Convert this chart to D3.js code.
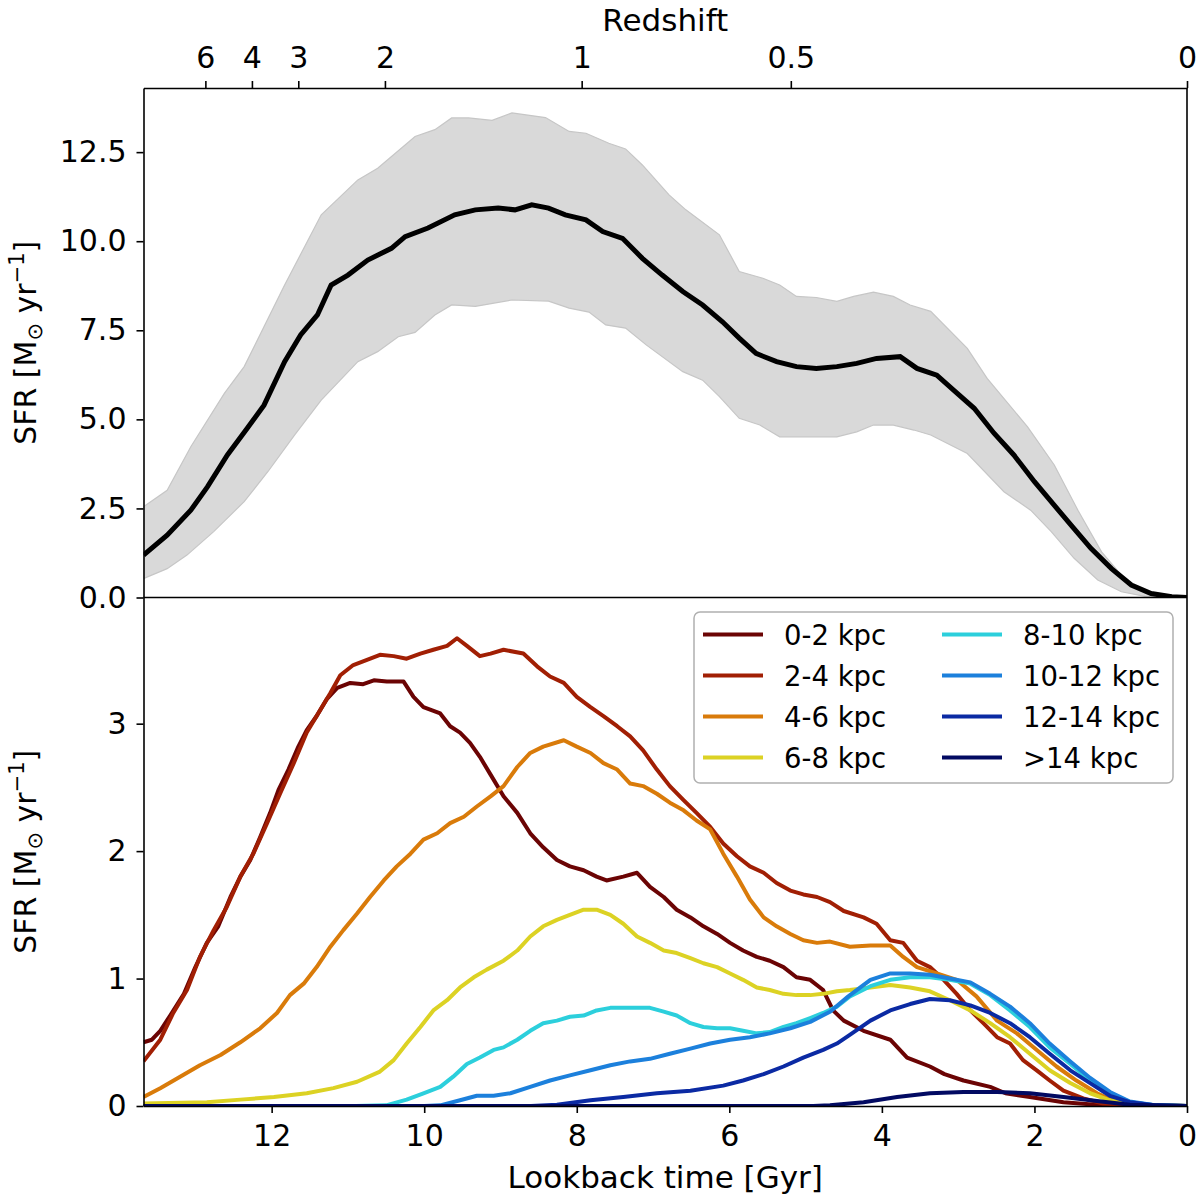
<!DOCTYPE html>
<html>
<head>
<meta charset="utf-8">
<script src="https://cdn.jsdelivr.net/npm/d3@7"></script>
<style>
body { margin: 0; background: #fff; }
svg text { font-family: "DejaVu Sans", sans-serif; fill: #000; }
</style>
</head>
<body>
<div id="chart"></div>
<script>
// ---- data: [lookback time in Gyr, SFR] ----
var sfrTotal = [[13.68,1.19],[13.37,1.75],[13.06,2.45],[12.84,3.11],[12.58,4.00],[12.32,4.75],[12.10,5.40],[11.83,6.62],[11.62,7.37],[11.40,7.93],[11.22,8.77],[11.00,9.05],[10.74,9.47],[10.43,9.80],[10.25,10.13],[9.95,10.37],[9.60,10.74],[9.33,10.88],[9.03,10.93],[8.81,10.88],[8.59,11.02],[8.37,10.93],[8.15,10.74],[7.88,10.60],[7.66,10.27],[7.40,10.08],[7.14,9.52],[6.88,9.05],[6.61,8.59],[6.35,8.21],[6.09,7.74],[5.87,7.28],[5.65,6.85],[5.38,6.62],[5.12,6.48],[4.86,6.43],[4.59,6.48],[4.33,6.57],[4.07,6.71],[3.76,6.76],[3.54,6.43],[3.28,6.24],[3.06,5.82],[2.79,5.31],[2.53,4.61],[2.27,4.00],[2.00,3.25],[1.78,2.69],[1.52,2.03],[1.26,1.38],[0.99,0.81],[0.73,0.35],[0.47,0.11],[0.20,0.02],[0,0]];

var sfrUpper = [[13.68,2.55],[13.37,3.01],[13.06,4.23],[12.62,5.73],[12.36,6.48],[11.83,8.77],[11.35,10.74],[10.87,11.72],[10.61,12.05],[10.12,12.94],[9.86,13.13],[9.64,13.46],[9.42,13.46],[9.11,13.39],[8.85,13.60],[8.41,13.47],[8.10,13.08],[7.88,13.03],[7.58,12.75],[7.36,12.59],[7.14,12.14],[6.79,11.30],[6.57,10.88],[6.13,10.18],[5.87,9.15],[5.56,8.96],[5.34,8.77],[5.12,8.45],[4.86,8.42],[4.59,8.31],[4.37,8.45],[4.11,8.57],[3.85,8.45],[3.63,8.21],[3.36,8.03],[2.88,6.99],[2.62,6.15],[2.09,4.79],[1.74,3.72],[1.43,2.45],[1.12,1.28],[0.82,0.53],[0.55,0.16],[0.29,0.04],[0,0]];

var sfrLower = [[13.68,0.53],[13.37,0.81],[13.11,1.19],[12.76,1.85],[12.36,2.69],[12.05,3.53],[11.70,4.56],[11.35,5.54],[10.87,6.62],[10.61,6.90],[10.34,7.32],[10.12,7.44],[9.86,7.93],[9.64,8.21],[9.33,8.17],[8.85,8.35],[8.37,8.32],[8.10,8.12],[7.84,8.01],[7.62,7.65],[7.36,7.56],[7.09,7.09],[6.61,6.34],[6.35,6.10],[6.13,5.64],[5.87,5.03],[5.60,4.84],[5.34,4.51],[4.59,4.51],[4.33,4.65],[4.11,4.84],[3.85,4.84],[3.58,4.70],[3.36,4.56],[2.88,4.04],[2.40,2.97],[2.05,2.45],[1.78,1.85],[1.48,1.10],[1.17,0.49],[0.86,0.16],[0.55,0.03],[0,0]];

var ring0_2 = [[13.68,0.50],[13.57,0.52],[13.46,0.59],[13.33,0.71],[13.15,0.88],[13.00,1.09],[12.85,1.28],[12.70,1.41],[12.54,1.64],[12.41,1.80],[12.28,1.93],[12.15,2.11],[12.02,2.30],[11.91,2.48],[11.78,2.64],[11.65,2.82],[11.54,2.95],[11.41,3.06],[11.28,3.19],[11.14,3.28],[10.97,3.32],[10.80,3.31],[10.66,3.34],[10.49,3.33],[10.27,3.33],[10.14,3.21],[10.01,3.13],[9.79,3.08],[9.66,2.98],[9.53,2.93],[9.40,2.85],[9.27,2.74],[9.13,2.60],[8.96,2.43],[8.78,2.30],[8.61,2.14],[8.44,2.03],[8.26,1.93],[8.09,1.88],[7.91,1.85],[7.74,1.80],[7.61,1.77],[7.39,1.80],[7.21,1.83],[7.04,1.72],[6.86,1.64],[6.69,1.54],[6.51,1.48],[6.34,1.41],[6.16,1.35],[5.99,1.28],[5.82,1.22],[5.64,1.17],[5.47,1.14],[5.29,1.09],[5.12,1.01],[4.94,0.99],[4.77,0.91],[4.64,0.75],[4.50,0.67],[4.24,0.59],[3.89,0.52],[3.67,0.38],[3.37,0.31],[3.18,0.25],[2.93,0.20],[2.58,0.15],[2.38,0.10],[2.06,0.07],[1.62,0.03],[1.20,0.01],[0.60,0.002],[0,0]];

var ring2_4 = [[13.68,0.35],[13.46,0.52],[13.29,0.73],[13.11,0.91],[12.94,1.17],[12.76,1.38],[12.59,1.56],[12.41,1.80],[12.24,1.98],[12.06,2.22],[11.89,2.45],[11.71,2.69],[11.54,2.93],[11.41,3.06],[11.23,3.24],[11.10,3.38],[10.93,3.46],[10.75,3.50],[10.58,3.54],[10.40,3.53],[10.23,3.51],[10.05,3.55],[9.88,3.58],[9.70,3.61],[9.57,3.67],[9.44,3.61],[9.27,3.53],[9.13,3.55],[8.96,3.58],[8.70,3.55],[8.52,3.45],[8.35,3.37],[8.17,3.32],[8.00,3.21],[7.82,3.13],[7.65,3.06],[7.47,2.98],[7.30,2.90],[7.13,2.79],[6.95,2.64],[6.78,2.51],[6.60,2.40],[6.43,2.30],[6.25,2.19],[6.08,2.06],[5.90,1.96],[5.73,1.88],[5.55,1.83],[5.38,1.75],[5.20,1.69],[5.03,1.66],[4.85,1.64],[4.68,1.60],[4.50,1.53],[4.24,1.48],[4.07,1.43],[3.89,1.30],[3.72,1.28],[3.54,1.14],[3.37,1.09],[3.19,0.99],[3.02,0.88],[2.84,0.75],[2.67,0.65],[2.49,0.54],[2.32,0.49],[2.15,0.36],[1.97,0.28],[1.80,0.20],[1.62,0.12],[1.36,0.06],[1.10,0.02],[0.75,0.005],[0,0]];

var ring4_6 = [[13.68,0.07],[13.46,0.14],[13.20,0.23],[12.94,0.32],[12.67,0.40],[12.41,0.50],[12.15,0.61],[11.93,0.73],[11.76,0.87],[11.58,0.96],[11.41,1.09],[11.23,1.25],[11.06,1.38],[10.88,1.51],[10.71,1.64],[10.53,1.77],[10.36,1.88],[10.18,1.98],[10.01,2.09],[9.83,2.14],[9.66,2.22],[9.48,2.27],[9.31,2.35],[9.13,2.43],[8.96,2.51],[8.78,2.66],[8.61,2.77],[8.44,2.82],[8.17,2.87],[8.00,2.82],[7.82,2.77],[7.65,2.69],[7.47,2.64],[7.30,2.53],[7.13,2.51],[6.95,2.45],[6.78,2.38],[6.60,2.32],[6.43,2.24],[6.25,2.17],[6.08,1.98],[5.90,1.80],[5.73,1.62],[5.55,1.48],[5.38,1.41],[5.20,1.35],[5.03,1.30],[4.85,1.28],[4.68,1.29],[4.42,1.25],[4.15,1.26],[3.89,1.26],[3.72,1.17],[3.54,1.09],[3.28,1.04],[3.02,0.99],[2.76,0.86],[2.49,0.67],[2.23,0.57],[1.97,0.44],[1.71,0.31],[1.45,0.20],[1.18,0.10],[0.92,0.03],[0.60,0.005],[0,0]];

var ring6_8 = [[13.68,0.02],[12.85,0.03],[12.41,0.05],[11.97,0.07],[11.54,0.10],[11.19,0.14],[10.88,0.19],[10.58,0.27],[10.40,0.36],[10.23,0.49],[10.05,0.62],[9.88,0.75],[9.70,0.83],[9.53,0.93],[9.35,1.01],[9.18,1.07],[8.96,1.14],[8.78,1.22],[8.61,1.33],[8.44,1.41],[8.26,1.46],[8.09,1.50],[7.91,1.54],[7.74,1.54],[7.56,1.50],[7.39,1.43],[7.21,1.33],[7.04,1.28],[6.86,1.22],[6.69,1.20],[6.51,1.16],[6.34,1.12],[6.16,1.09],[5.99,1.04],[5.82,0.99],[5.64,0.93],[5.47,0.91],[5.29,0.88],[5.12,0.87],[4.94,0.87],[4.77,0.88],[4.59,0.90],[4.42,0.91],[4.15,0.93],[3.89,0.95],[3.63,0.93],[3.37,0.90],[3.11,0.83],[2.84,0.75],[2.58,0.65],[2.32,0.54],[2.06,0.41],[1.80,0.28],[1.53,0.18],[1.27,0.10],[1.01,0.045],[0.66,0.01],[0,0]];

var ring8_10 = [[13.68,0],[10.90,0],[10.50,0.005],[10.23,0.05],[10.01,0.10],[9.79,0.15],[9.62,0.23],[9.44,0.33],[9.27,0.38],[9.09,0.44],[8.96,0.46],[8.78,0.52],[8.61,0.59],[8.44,0.65],[8.26,0.67],[8.09,0.70],[7.91,0.71],[7.74,0.75],[7.56,0.77],[7.39,0.77],[7.21,0.77],[7.04,0.77],[6.86,0.74],[6.69,0.71],[6.51,0.65],[6.34,0.62],[6.16,0.61],[5.99,0.61],[5.82,0.59],[5.64,0.57],[5.47,0.58],[5.29,0.62],[5.12,0.65],[4.94,0.69],[4.77,0.73],[4.59,0.78],[4.42,0.86],[4.15,0.94],[3.89,0.99],[3.63,1.01],[3.37,1.01],[3.11,0.99],[2.84,0.96],[2.58,0.87],[2.32,0.75],[2.06,0.62],[1.80,0.46],[1.53,0.33],[1.27,0.20],[1.01,0.10],[0.75,0.03],[0.40,0.005],[0,0]];

var ring10_12 = [[13.68,0],[10.00,0],[9.79,0.005],[9.53,0.045],[9.31,0.08],[9.09,0.08],[8.87,0.10],[8.61,0.15],[8.35,0.20],[8.09,0.24],[7.82,0.28],[7.56,0.32],[7.30,0.35],[7.04,0.37],[6.78,0.41],[6.51,0.45],[6.25,0.49],[5.99,0.52],[5.73,0.54],[5.47,0.57],[5.20,0.61],[4.94,0.66],[4.68,0.74],[4.44,0.86],[4.15,0.99],[3.89,1.04],[3.63,1.04],[3.37,1.03],[3.11,1.00],[2.84,0.97],[2.58,0.88],[2.32,0.78],[2.06,0.65],[1.80,0.49],[1.53,0.35],[1.27,0.22],[1.01,0.11],[0.75,0.035],[0.40,0.005],[0,0]];

var ring12_14 = [[13.68,0],[8.60,0],[8.26,0.01],[7.82,0.045],[7.39,0.07],[6.95,0.10],[6.51,0.12],[6.08,0.16],[5.82,0.20],[5.55,0.25],[5.29,0.31],[5.03,0.38],[4.77,0.44],[4.59,0.49],[4.44,0.55],[4.15,0.67],[3.89,0.75],[3.63,0.80],[3.37,0.84],[3.11,0.83],[2.84,0.79],[2.58,0.73],[2.32,0.65],[2.06,0.54],[1.80,0.41],[1.53,0.28],[1.27,0.18],[1.01,0.08],[0.75,0.03],[0.40,0.005],[0,0]];

var ring14plus = [[13.68,0],[4.90,0],[4.68,0.005],[4.24,0.03],[3.80,0.07],[3.37,0.10],[2.93,0.11],[2.49,0.11],[2.06,0.10],[1.62,0.07],[1.18,0.04],[0.75,0.01],[0,0]];

var ringLabels = ["0-2 kpc", "2-4 kpc", "4-6 kpc", "6-8 kpc", "8-10 kpc", "10-12 kpc", "12-14 kpc", ">14 kpc"];
var ringColors = ["#6b0404", "#a11f04", "#d97b0a", "#dcd224", "#2ccfdc", "#1c80dc", "#0b2aa3", "#020a62"];
var ringSeries = [ring0_2, ring2_4, ring4_6, ring6_8, ring8_10, ring10_12, ring12_14, ring14plus];

var timeTicks = [12, 10, 8, 6, 4, 2, 0];
var topSfrTicks = [0, 2.5, 5, 7.5, 10, 12.5];
var bottomSfrTicks = [0, 1, 2, 3];
var redshiftTicks = [6, 4, 3, 2, 1, 0.5, 0];
var redshiftLabels = ["6", "4", "3", "2", "1", "0.5", "0"];

// flat LCDM (Planck 2015) lookback time, for placing the redshift axis
function lookback(z)
{
    var H0 = 67.74, Om = 0.3089, tH = 977.79 / H0;
    var n = 2000, dz = z / n, s = 0;
    if (z <= 0) return 0;
    for (var i = 0; i <= n; i++) {
        var zz = i * dz;
        var f = 1 / ((1 + zz) * Math.sqrt(Om * Math.pow(1 + zz, 3) + 1 - Om));
        s += (i == 0 || i == n ? 0.5 : 1) * f;
    }
    return tH * s * dz;
}

// ---- layout ----
var w = 1200, h = 1201;
var left = 143.5, right = 1187, top1 = 88, mid = 597.5, bottom2 = 1106;

var svg = d3.select("#chart")
            .append("svg")
            .attr("width", w)
            .attr("height", h);

var xScale = d3.scaleLinear().domain([13.68, 0]).range([left, right]);
var yTop = d3.scaleLinear().domain([0, 14.3]).range([mid, top1]);
var yBot = d3.scaleLinear().domain([0, 3.99]).range([bottom2, mid]);

var defs = svg.append("defs");
defs.append("clipPath").attr("id", "clipTop")
    .append("rect").attr("x", left).attr("y", top1).attr("width", right - left).attr("height", mid - top1);
defs.append("clipPath").attr("id", "clipBot")
    .append("rect").attr("x", left).attr("y", mid).attr("width", right - left).attr("height", bottom2 - mid);

// ---- top panel: total SFR with spread ----
var topLine = d3.line()
                .x(function(d) { return xScale(d[0]); })
                .y(function(d) { return yTop(d[1]); });

var bandPts = sfrUpper.concat(sfrLower.slice().reverse());

var gTop = svg.append("g").attr("clip-path", "url(#clipTop)");

gTop.append("path")
    .attr("d", topLine(bandPts) + "Z")
    .attr("fill", "#d9d9d9")
    .attr("stroke", "#c6c6c6")
    .attr("stroke-width", 1.2);

gTop.append("path")
    .datum(sfrTotal)
    .attr("d", topLine)
    .attr("fill", "none")
    .attr("stroke", "#000")
    .attr("stroke-width", 5)
    .attr("stroke-linejoin", "miter");

// ---- bottom panel: SFR per radial bin ----
var botLine = d3.line()
                .x(function(d) { return xScale(d[0]); })
                .y(function(d) { return yBot(d[1]); });

svg.append("g")
    .attr("clip-path", "url(#clipBot)")
    .selectAll("path")
    .data(ringSeries)
    .enter()
    .append("path")
        .attr("d", botLine)
        .attr("fill", "none")
        .attr("stroke", function(d, i) { return ringColors[i]; })
        .attr("stroke-width", 4)
        .attr("stroke-linejoin", "round");

// ---- axes ----
function styleAxis(g, size)
{
    g.selectAll("path.domain").attr("stroke", "#000").attr("stroke-width", 1.6);
    g.selectAll(".tick line").attr("stroke", "#000").attr("stroke-width", 1.6);
    g.selectAll(".tick text").attr("font-size", size).attr("font-family", "DejaVu Sans, sans-serif").attr("fill", "#000");
}

// top panel left axis
var yTopAxis = d3.axisLeft(yTop).tickValues(topSfrTicks).tickFormat(d3.format(".1f"))
                 .tickSize(7).tickPadding(10).tickSizeOuter(0);
svg.append("g").attr("transform", "translate(" + left + ",0)").call(yTopAxis).call(styleAxis, 30);

// bottom panel left axis
var yBotAxis = d3.axisLeft(yBot).tickValues(bottomSfrTicks).tickFormat(d3.format("d"))
                 .tickSize(7).tickPadding(10).tickSizeOuter(0);
svg.append("g").attr("transform", "translate(" + left + ",0)").call(yBotAxis).call(styleAxis, 30);

// lookback time axis
var xAxis = d3.axisBottom(xScale).tickValues(timeTicks).tickFormat(d3.format("d"))
              .tickSize(7).tickPadding(12).tickSizeOuter(0);
svg.append("g").attr("transform", "translate(0," + bottom2 + ")").call(xAxis).call(styleAxis, 30);

// redshift axis on top
var zAxis = d3.axisTop(xScale)
              .tickValues(redshiftTicks.map(lookback))
              .tickFormat(function(d, i) { return redshiftLabels[i]; })
              .tickSize(7).tickPadding(13).tickSizeOuter(0);
svg.append("g").attr("transform", "translate(0," + top1 + ")").call(zAxis).call(styleAxis, 30);

// remaining spines
svg.append("line").attr("x1", left).attr("x2", right).attr("y1", mid).attr("y2", mid)
    .attr("stroke", "#000").attr("stroke-width", 1.6);
svg.append("line").attr("x1", right).attr("x2", right).attr("y1", top1).attr("y2", bottom2)
    .attr("stroke", "#000").attr("stroke-width", 1.6);

// ---- axis labels ----
svg.append("text")
    .attr("x", (left + right) / 2).attr("y", 31)
    .attr("text-anchor", "middle").attr("font-size", 31)
    .text("Redshift");

svg.append("text")
    .attr("x", (left + right) / 2).attr("y", 1188)
    .attr("text-anchor", "middle").attr("font-size", 31)
    .text("Lookback time [Gyr]");

function sfrLabel(cy)
{
    var t = svg.append("text")
               .attr("transform", "translate(36," + cy + ") rotate(-90)")
               .attr("text-anchor", "middle")
               .attr("font-size", 30);
    t.append("tspan").text("SFR [M");
    t.append("tspan").attr("font-size", 21).attr("dy", 6).text("\u2299");
    t.append("tspan").attr("dy", -6).text(" yr");
    t.append("tspan").attr("font-size", 21).attr("dy", -12).text("\u22121");
    t.append("tspan").attr("dy", 12).text("]");
}
sfrLabel((top1 + mid) / 2);
sfrLabel((mid + bottom2) / 2);

// ---- legend ----
var legend = svg.append("g");
legend.append("rect")
    .attr("x", 694).attr("y", 612).attr("width", 479).attr("height", 171)
    .attr("rx", 6).attr("ry", 6)
    .attr("fill", "#fff").attr("fill-opacity", 0.85)
    .attr("stroke", "#b0b0b0").attr("stroke-width", 1.5);

var entry = legend.selectAll("g.entry")
    .data(ringLabels)
    .enter()
    .append("g")
    .attr("class", "entry")
    .attr("transform", function(d, i) {
        var col = Math.floor(i / 4), row = i % 4;
        return "translate(" + (col == 0 ? 703 : 942) + "," + (634.5 + row * 41) + ")";
    });

entry.append("line")
    .attr("x1", 0).attr("x2", 60)
    .attr("stroke", function(d, i) { return ringColors[i]; })
    .attr("stroke-width", 4);

entry.append("text")
    .attr("x", 81).attr("dy", "0.37em")
    .attr("font-size", 27.5)
    .text(function(d) { return d; });
</script>
</body>
</html>
